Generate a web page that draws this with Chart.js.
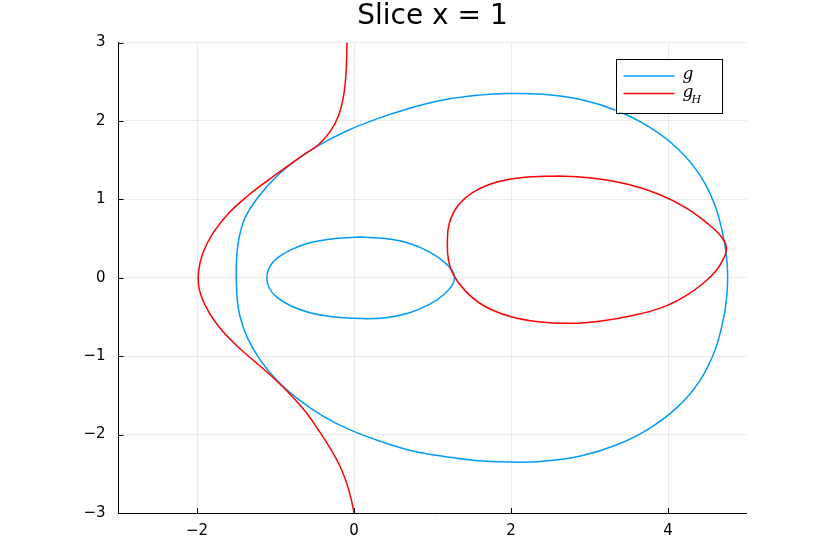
<!DOCTYPE html>
<html>
<head>
<meta charset="utf-8">
<script src="https://cdn.jsdelivr.net/npm/chart.js@4.4.1/dist/chart.umd.min.js"></script>
<style>
  html, body { margin: 0; padding: 0; background: #fff; }
  #wrap { width: 830px; height: 554px; position: relative; }
</style>
</head>
<body>
<div id="wrap"><canvas id="chart"></canvas></div>
<script>
// axis ticks
const xTicks = [-2, 0, 2, 4];
const yTicks = [-3, -2, -1, 0, 1, 2, 3];

// g : big closed curve
const gOuter = [
    [-1.50, 0.00], [-1.495, 0.25], [-1.46, 0.53], [-1.38, 0.78], [-1.22, 1.03],
    [-1.00, 1.28], [-0.75, 1.49], [-0.45, 1.69], [-0.10, 1.87], [0.30, 2.03],
    [0.70, 2.16], [1.15, 2.27], [1.60, 2.33], [1.95, 2.35], [2.40, 2.34],
    [2.90, 2.27], [3.35, 2.13], [3.75, 1.93], [4.12, 1.65], [4.40, 1.32],
    [4.60, 0.92], [4.71, 0.50], [4.75, 0.22], [4.76, 0.00], [4.75, -0.22],
    [4.71, -0.50], [4.60, -0.92], [4.40, -1.32], [4.12, -1.65], [3.75, -1.93],
    [3.35, -2.13], [2.90, -2.27], [2.40, -2.34], [1.95, -2.35], [1.55, -2.33],
    [1.15, -2.28], [0.75, -2.21], [0.35, -2.09], [-0.05, -1.94], [-0.40, -1.76],
    [-0.72, -1.54], [-0.98, -1.31], [-1.20, -1.04], [-1.36, -0.76], [-1.45, -0.50],
    [-1.49, -0.25], [-1.50, 0.00]
];

// g : small closed curve
const gInner = [
    [0.08, 0.52], [0.40, 0.50], [0.70, 0.44], [0.96, 0.33], [1.15, 0.20],
    [1.26, 0.08], [1.28, 0.00], [1.26, -0.08], [1.15, -0.21], [0.96, -0.34],
    [0.70, -0.45], [0.40, -0.51], [0.08, -0.52], [-0.25, -0.50], [-0.55, -0.45],
    [-0.80, -0.36], [-0.98, -0.25], [-1.08, -0.13], [-1.11, 0.00], [-1.08, 0.13],
    [-0.98, 0.25], [-0.80, 0.36], [-0.55, 0.45], [-0.25, 0.50], [0.08, 0.52]
];

// g_H : open branch on the left
const gHOpen = [
    [-0.09, 3.00], [-0.095, 2.75], [-0.11, 2.50], [-0.14, 2.28], [-0.20, 2.06],
    [-0.30, 1.87], [-0.45, 1.70], [-0.64, 1.57], [-0.85, 1.42], [-1.10, 1.24],
    [-1.36, 1.04], [-1.60, 0.82], [-1.79, 0.58], [-1.92, 0.33], [-1.98, 0.08],
    [-1.97, -0.15], [-1.86, -0.42], [-1.70, -0.65], [-1.49, -0.87], [-1.25, -1.08],
    [-1.01, -1.29], [-0.79, -1.51], [-0.60, -1.73], [-0.44, -1.96], [-0.30, -2.18],
    [-0.18, -2.40], [-0.09, -2.63], [-0.03, -2.85], [0.00, -3.00]
];

// g_H : closed loop on the right
const gHLoop = [
    [2.60, 1.30], [3.05, 1.27], [3.50, 1.19], [3.90, 1.06], [4.25, 0.88],
    [4.52, 0.68], [4.66, 0.55], [4.73, 0.44], [4.745, 0.36], [4.72, 0.27],
    [4.62, 0.10], [4.45, -0.07], [4.21, -0.24], [3.92, -0.38], [3.55, -0.48],
    [3.15, -0.55], [2.75, -0.58], [2.35, -0.56], [1.98, -0.49], [1.66, -0.36],
    [1.42, -0.17], [1.26, 0.05], [1.20, 0.25], [1.19, 0.45], [1.21, 0.68],
    [1.31, 0.90], [1.50, 1.08], [1.78, 1.21], [2.15, 1.28], [2.60, 1.30]
];

const BLUE = '#009af9';
const RED = '#ff0000';

const toXY = pts => pts.map(([x, y]) => ({ x, y }));
const fmt = v => (v < 0 ? '\u2212' + Math.abs(v) : String(v));

function curve(pts, color, order) {
    return {
        data: toXY(pts),
        showLine: true,
        borderColor: color,
        borderWidth: 1.5,
        pointRadius: 0,
        tension: 0.4,
        fill: false,
        order
    };
}

// short inward tick marks along the axes
const innerTicks = {
    id: 'innerTicks',
    afterDraw(chart) {
        const { ctx, chartArea: a, scales } = chart;
        ctx.save();
        ctx.strokeStyle = '#000';
        ctx.lineWidth = 1;
        ctx.beginPath();
        xTicks.forEach(v => {
            const px = Math.round(scales.x.getPixelForValue(v)) + 0.5;
            ctx.moveTo(px, a.bottom);
            ctx.lineTo(px, a.bottom - 5);
        });
        yTicks.forEach(v => {
            const py = Math.round(scales.y.getPixelForValue(v)) + 0.5;
            ctx.moveTo(a.left, py);
            ctx.lineTo(a.left + 5, py);
        });
        ctx.stroke();
        ctx.restore();
    }
};

// legend box with g and g_H
const mathLegend = {
    id: 'mathLegend',
    afterDraw(chart) {
        const { ctx, chartArea: a } = chart;
        const w = 106, h = 54;
        const x0 = a.right - 25 - w, y0 = a.top + 16;
        ctx.save();
        ctx.fillStyle = '#fff';
        ctx.fillRect(x0, y0, w, h);
        ctx.strokeStyle = '#000';
        ctx.lineWidth = 1;
        ctx.strokeRect(Math.round(x0) + 0.5, Math.round(y0) + 0.5, w, h);

        const rows = [
            { color: BLUE, y: y0 + 17.5, main: 'g', sub: '' },
            { color: RED, y: y0 + 35, main: 'g', sub: 'H' }
        ];
        rows.forEach(r => {
            ctx.strokeStyle = r.color;
            ctx.lineWidth = 1.5;
            ctx.beginPath();
            ctx.moveTo(x0 + 8, r.y);
            ctx.lineTo(x0 + 59, r.y);
            ctx.stroke();
            ctx.fillStyle = '#000';
            ctx.textBaseline = 'alphabetic';
            ctx.textAlign = 'left';
            ctx.font = 'italic 17px "DejaVu Serif"';
            ctx.fillText(r.main, x0 + 67, r.y + 3);
            if (r.sub) {
                ctx.font = 'italic 11px "DejaVu Serif"';
                ctx.fillText(r.sub, x0 + 76, r.y + 9);
            }
        });
        ctx.restore();
    }
};

const tickFont = { family: 'DejaVu Sans', size: 15 };
const gridColor = 'rgba(0,0,0,0.08)';

new Chart(document.getElementById('chart'), {
    type: 'scatter',
    data: {
        datasets: [
            curve(gOuter, BLUE, 2),
            curve(gInner, BLUE, 2),
            curve(gHOpen, RED, 1),
            curve(gHLoop, RED, 1)
        ]
    },
    options: {
        responsive: true,
        maintainAspectRatio: false,
        animation: false,
        layout: { padding: { left: 0, right: 83.5, top: 0, bottom: 0 } },
        plugins: {
            legend: { display: false },
            tooltip: { enabled: false },
            title: {
                display: true,
                text: 'Slice x = 1',
                color: '#000',
                fullSize: false,
                font: { family: 'DejaVu Sans', size: 28, weight: 'normal' },
                padding: { top: 0, bottom: 9 }
            }
        },
        scales: {
            x: {
                type: 'linear',
                min: -3,
                max: 5,
                afterBuildTicks: s => { s.ticks = xTicks.map(v => ({ value: v })); },
                afterFit: s => { s.height = 41; },
                grid: { color: gridColor, drawTicks: false },
                border: { color: '#000', width: 1 },
                ticks: { color: '#000', font: tickFont, padding: 9, maxRotation: 0, callback: fmt }
            },
            y: {
                type: 'linear',
                min: -3,
                max: 3,
                afterBuildTicks: s => { s.ticks = yTicks.map(v => ({ value: v })); },
                afterFit: s => { s.width = 118.5; },
                grid: { color: gridColor, drawTicks: false },
                border: { color: '#000', width: 1 },
                ticks: { color: '#000', font: tickFont, padding: 13, callback: fmt }
            }
        }
    },
    plugins: [innerTicks, mathLegend]
});
</script>
</body>
</html>
